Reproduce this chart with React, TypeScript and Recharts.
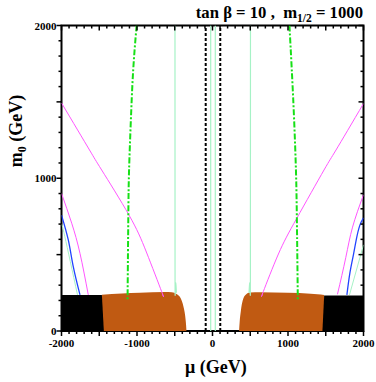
import React from 'react';
import { ComposedChart, XAxis, YAxis, Line, Area, Customized } from 'recharts';

// ---------- data ----------
const xTickLabels = [-2000, -1000, 0, 1000, 2000];
const yTickLabels = [0, 1000, 2000];
const xTicks = Array.from({ length: 41 }, (_, i) => -2000 + i * 100);
const yTicks = Array.from({ length: 21 }, (_, i) => i * 100);

const blackLeft = [
  { mu: -2000, m0: 236 },
  { mu: -1465, m0: 236 },
  { mu: -1439, m0: 0 },
];
const blackRight = [
  { mu: 1456, m0: 0 },
  { mu: 1479, m0: 232 },
  { mu: 2000, m0: 232 },
];
const orangeLeft = [
  { mu: -1466, m0: 238 },
  { mu: -1200, m0: 245 },
  { mu: -962, m0: 250 },
  { mu: -630, m0: 255 },
  { mu: -540, m0: 253 },
  { mu: -470, m0: 240 },
  { mu: -420, m0: 212 },
  { mu: -385, m0: 160 },
  { mu: -362, m0: 100 },
  { mu: -350, m0: 40 },
  { mu: -345, m0: 0 },
];
const orangeRight = [
  { mu: 352, m0: 0 },
  { mu: 360, m0: 60 },
  { mu: 375, m0: 130 },
  { mu: 400, m0: 200 },
  { mu: 440, m0: 238 },
  { mu: 497, m0: 252 },
  { mu: 630, m0: 254 },
  { mu: 1000, m0: 250 },
  { mu: 1300, m0: 244 },
  { mu: 1479, m0: 236 },
  { mu: 1480, m0: 0 },
];
const magentaUpperLeft = [
  { mu: -2000, m0: 1493 },
  { mu: -1629, m0: 1185 },
  { mu: -1468, m0: 1054 },
  { mu: -1106, m0: 759 },
  { mu: -876, m0: 517 },
  { mu: -673, m0: 257 },
  { mu: -662, m0: 240 },
];
const magentaUpperRight = [
  { mu: 2000, m0: 1489 },
  { mu: 1636, m0: 1185 },
  { mu: 1477, m0: 1054 },
  { mu: 1115, m0: 737 },
  { mu: 873, m0: 504 },
  { mu: 673, m0: 258 },
  { mu: 662, m0: 240 },
];
const magentaLowerLeft = [
  { mu: -2000, m0: 901 },
  { mu: -1865, m0: 706 },
  { mu: -1755, m0: 508 },
  { mu: -1645, m0: 236 },
];
const magentaLowerRight = [
  { mu: 2000, m0: 892 },
  { mu: 1855, m0: 680 },
  { mu: 1765, m0: 480 },
  { mu: 1655, m0: 240 },
];
const blueLeft = [
  { mu: -2000, m0: 759 },
  { mu: -1910, m0: 596 },
  { mu: -1844, m0: 421 },
  { mu: -1755, m0: 236 },
];
const blueRight = [
  { mu: 2000, m0: 741 },
  { mu: 1950, m0: 690 },
  { mu: 1905, m0: 600 },
  { mu: 1867, m0: 500 },
  { mu: 1820, m0: 380 },
  { mu: 1780, m0: 236 },
];
const paleLowerLeft = [
  { mu: -2000, m0: 700 },
  { mu: -1956, m0: 618 },
  { mu: -1788, m0: 236 },
];
const paleLowerRight = [
  { mu: 2000, m0: 564 },
  { mu: 1814, m0: 236 },
];
const paleOuterLeft = [
  { mu: -497, m0: 2000 },
  { mu: -496, m0: 400 },
  { mu: -491, m0: 300 },
  { mu: -478, m0: 250 },
];
const paleOuterRight = [
  { mu: 503, m0: 2000 },
  { mu: 502, m0: 400 },
  { mu: 497, m0: 300 },
  { mu: 484, m0: 250 },
];
const paleInnerLeft = [
  { mu: -24, m0: 0 },
  { mu: -24, m0: 2000 },
];
const paleInnerRight = [
  { mu: 37, m0: 0 },
  { mu: 37, m0: 2000 },
];
const greenLeft = [
  { mu: -1005, m0: 2000 },
  { mu: -1050, m0: 1711 },
  { mu: -1081, m0: 1384 },
  { mu: -1105, m0: 1056 },
  { mu: -1115, m0: 754 },
  { mu: -1125, m0: 203 },
];
const greenRight = [
  { mu: 1019, m0: 2000 },
  { mu: 1050, m0: 1711 },
  { mu: 1081, m0: 1384 },
  { mu: 1105, m0: 1056 },
  { mu: 1117, m0: 754 },
  { mu: 1130, m0: 203 },
];
const dashLeft = [
  { mu: -90, m0: 0 },
  { mu: -90, m0: 2000 },
];
const dashRight = [
  { mu: 103, m0: 0 },
  { mu: 103, m0: 2000 },
];

// ---------- layout ----------
const W = 376;
const H = 382;
const AXW = 1;
const M = { top: 25.5, right: 12.5, bottom: 51 - AXW, left: 61.5 - AXW };
const PW = W - 61.5 - 12.5;
const PH = H - 25.5 - 51;

const FONT = '"Liberation Serif", "Times New Roman", serif';
const ORANGE = '#c05a12';
const MAGENTA = '#ff55ff';
const BLUE = '#2244ff';
const PALE = '#a6f2c6';
const GREEN = '#16e016';

const XTick = (props: any) => {
  const { x, y, payload } = props;
  const v = payload.value;
  const major = v % 500 === 0;
  const len = major ? 5 : 3;
  return (
    <g>
      <line x1={x} x2={x} y1={y} y2={y + len} stroke="#000" strokeWidth={1.5} />
      <line x1={x} x2={x} y1={y - PH} y2={y - PH + len} stroke="#000" strokeWidth={1.5} />
      {xTickLabels.includes(v) ? (
        <text x={x} y={y + 16} textAnchor="middle" fontFamily={FONT} fontWeight="bold" fontSize={11} fill="#000">
          {String(v)}
        </text>
      ) : null}
    </g>
  );
};

const YTick = (props: any) => {
  const { x, y, payload } = props;
  const v = payload.value;
  const major = v % 500 === 0;
  const len = major ? 5 : 3;
  return (
    <g>
      <line x1={x} x2={x - len} y1={y} y2={y} stroke="#000" strokeWidth={1.5} />
      <line x1={x + PW} x2={x + PW - len} y1={y} y2={y} stroke="#000" strokeWidth={1.5} />
      {yTickLabels.includes(v) ? (
        <text x={x - 5} y={y + 4} textAnchor="end" fontFamily={FONT} fontWeight="bold" fontSize={11} fill="#000">
          {String(v)}
        </text>
      ) : null}
    </g>
  );
};

const Decor = () => (
  <g>
    <rect x={61.5} y={25.5} width={PW} height={PH} fill="none" stroke="#000" strokeWidth={2} />
    <text x={363} y={18} textAnchor="end" fontFamily={FONT} fontWeight="bold" fontSize={16.7} fill="#000" style={{ whiteSpace: 'pre' }}>
      {'tan β = 10 ,  m'}
      <tspan fontSize={11.5} dy={4}>1/2</tspan>
      <tspan dy={-4}>{' = 1000'}</tspan>
    </text>
    <text x={185} y={373} textAnchor="start" fontFamily={FONT} fontWeight="bold" fontSize={18} fill="#000" style={{ whiteSpace: 'pre' }}>
      {'μ (GeV)'}
    </text>
    <text
      x={0}
      y={0}
      transform="translate(22,131) rotate(-90)"
      textAnchor="middle"
      fontFamily={FONT}
      fontWeight="bold"
      fontSize={18}
      fill="#000"
      style={{ whiteSpace: 'pre' }}
    >
      {'m'}
      <tspan fontSize={12} dy={4}>0</tspan>
      <tspan dy={-4}>{' (GeV)'}</tspan>
    </text>
  </g>
);

const line = (data: any[], color: string, width: number, dash?: string, type: any = 'natural') => (
  <Line
    data={data}
    dataKey="m0"
    type={type}
    stroke={color}
    strokeWidth={width}
    strokeDasharray={dash}
    dot={false}
    activeDot={false}
    isAnimationActive={false}
  />
);

export default function App() {
  return (
    <div style={{ position: 'absolute', left: 0, top: 0, width: W, height: H, background: '#fff' }}>
      <ComposedChart width={W} height={H} margin={M}>
        <XAxis
          dataKey="mu"
          type="number"
          domain={[-2000, 2000]}
          allowDataOverflow
          ticks={xTicks}
          interval={0}
          tick={XTick}
          tickLine={false}
          axisLine={false}
          tickSize={0}
          tickMargin={0}
          height={AXW}
        />
        <YAxis
          type="number"
          domain={[0, 2000]}
          allowDataOverflow
          ticks={yTicks}
          interval={0}
          tick={YTick}
          tickLine={false}
          axisLine={false}
          tickSize={0}
          tickMargin={0}
          width={AXW}
        />
        {line(paleInnerLeft, PALE, 1.2, undefined, 'linear')}
        {line(paleInnerRight, PALE, 1.2, undefined, 'linear')}
        {line(paleOuterLeft, PALE, 1.2)}
        {line(paleOuterRight, PALE, 1.2)}
        {line(paleLowerLeft, PALE, 1)}
        {line(paleLowerRight, PALE, 1)}
        {line(magentaUpperLeft, MAGENTA, 1)}
        {line(magentaUpperRight, MAGENTA, 1)}
        {line(magentaLowerLeft, MAGENTA, 1)}
        {line(magentaLowerRight, MAGENTA, 1)}
        {line(blueLeft, BLUE, 1.3)}
        {line(blueRight, BLUE, 1.3)}
        {line(greenLeft, GREEN, 2, '6 2 2 2')}
        {line(greenRight, GREEN, 2, '6 2 2 2')}
        {line(dashLeft, '#000', 2, '3 2', 'linear')}
        {line(dashRight, '#000', 2, '3 2', 'linear')}
        <Area data={orangeLeft} dataKey="m0" type="monotone" fill={ORANGE} fillOpacity={1} stroke="none" isAnimationActive={false} />
        <Area data={orangeRight} dataKey="m0" type="monotone" fill={ORANGE} fillOpacity={1} stroke="none" isAnimationActive={false} />
        <Area data={blackLeft} dataKey="m0" type="linear" fill="#000" fillOpacity={1} stroke="none" isAnimationActive={false} />
        <Area data={blackRight} dataKey="m0" type="linear" fill="#000" fillOpacity={1} stroke="none" isAnimationActive={false} />
        <Customized component={<Decor />} />
      </ComposedChart>
    </div>
  );
}
